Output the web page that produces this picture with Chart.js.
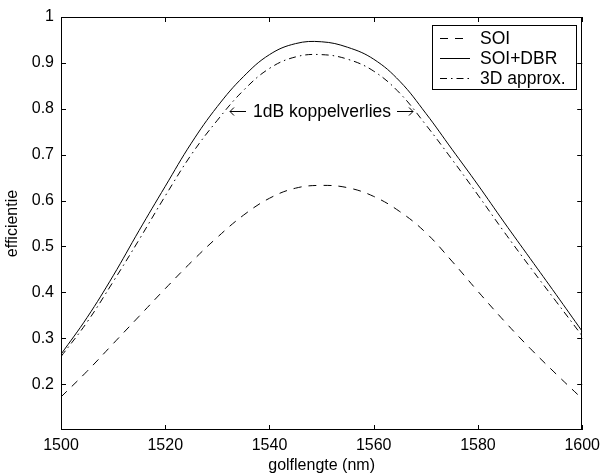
<!DOCTYPE html>
<html>
<head>
<meta charset="utf-8">
<script src="https://cdn.jsdelivr.net/npm/chart.js@4.4.1/dist/chart.umd.min.js"></script>
<style>
  html, body { margin: 0; padding: 0; background: #fff; }
  #wrap { width: 606px; height: 475px; position: relative; }
</style>
</head>
<body>
<div id="wrap"><canvas id="c" width="606" height="475"></canvas></div>
<script>
// wavelengths (nm)
const wavelengths = [1500,1505,1510,1515,1520,1525,1530,1535,1540,1545,1550,1555,1560,1565,1570,1575,1580,1585,1590,1595,1600];
// efficiency series
const soi     = [0.172,0.228,0.288,0.348,0.408,0.466,0.520,0.568,0.605,0.627,0.633,0.628,0.609,0.576,0.530,0.468,0.402,0.338,0.278,0.222,0.168];
const soiDbr  = [0.265,0.345,0.436,0.535,0.631,0.725,0.805,0.870,0.918,0.942,0.946,0.934,0.908,0.860,0.790,0.712,0.634,0.553,0.474,0.395,0.315];
const approx3d= [0.260,0.335,0.423,0.515,0.610,0.700,0.775,0.840,0.888,0.913,0.918,0.908,0.882,0.834,0.765,0.690,0.612,0.532,0.455,0.380,0.305];
const seriesNames = ['SOI','SOI+DBR','3D approx.'];
const xTicks = [1500,1520,1540,1560,1580,1600];
const yTicks = [0.2,0.3,0.4,0.5,0.6,0.7,0.8,0.9,1];
const annotationText = '1dB koppelverlies';
const xTitle = 'golflengte (nm)';
const yTitle = 'efficientie';

const FONT = "'Liberation Sans', Arial, 'DejaVu Sans', sans-serif";
const toPts = arr => arr.map((v, i) => ({x: wavelengths[i], y: v}));

const dashes = [[8,7], [], [7,4,1.5,4]];

const boxPlugin = {
  id: 'matlabBox',
  afterDraw(chart) {
    const ctx = chart.ctx;
    const a = chart.chartArea;
    const xs = chart.scales.x, ys = chart.scales.y;
    ctx.save();
    ctx.strokeStyle = '#000';
    ctx.lineWidth = 1;
    ctx.setLineDash([]);
    ctx.strokeRect(Math.round(a.left) + 0.5, Math.round(a.top) + 0.5,
                   Math.round(a.right - a.left) - 1, Math.round(a.bottom - a.top) - 1);
    const tl = 5;
    ctx.beginPath();
    xTicks.forEach(v => {
      const px = Math.round(xs.getPixelForValue(v)) + 0.5;
      ctx.moveTo(px, a.bottom); ctx.lineTo(px, a.bottom - tl);
      ctx.moveTo(px, a.top); ctx.lineTo(px, a.top + tl);
    });
    yTicks.forEach(v => {
      const py = Math.round(ys.getPixelForValue(v)) + 0.5;
      ctx.moveTo(a.left, py); ctx.lineTo(a.left + tl, py);
      ctx.moveTo(a.right, py); ctx.lineTo(a.right - tl, py);
    });
    ctx.stroke();

    // legend
    const lx = 432, ly = 25, lw = 144, lh = 64;
    ctx.fillStyle = '#fff';
    ctx.fillRect(lx, ly, lw, lh);
    ctx.strokeRect(lx + 0.5, ly + 0.5, lw, lh);
    ctx.font = '17.5px ' + FONT;
    ctx.textBaseline = 'middle';
    ctx.textAlign = 'left';
    chart.data.datasets.forEach((ds, i) => {
      const yy = ly + 13 + i * 20;
      ctx.beginPath();
      ctx.setLineDash(ds.borderDash || []);
      ctx.lineWidth = 1;
      ctx.moveTo(440, yy + 0.5); ctx.lineTo(470, yy + 0.5);
      ctx.stroke();
      ctx.setLineDash([]);
      ctx.fillStyle = '#000';
      ctx.fillText(ds.label, 480, yy + 1);
    });

    // annotation with long arrows
    ctx.fillStyle = '#000';
    ctx.textAlign = 'center';
    ctx.font = '17.5px ' + FONT;
    ctx.fillText(annotationText, 322, 112);
    const ay = 111.5;
    ctx.beginPath();
    ctx.setLineDash([]);
    ctx.moveTo(230, ay); ctx.lineTo(246, ay);
    ctx.moveTo(234, ay - 4); ctx.lineTo(230, ay); ctx.lineTo(234, ay + 4);
    ctx.moveTo(397, ay); ctx.lineTo(413, ay);
    ctx.moveTo(409, ay - 4); ctx.lineTo(413, ay); ctx.lineTo(409, ay + 4);
    ctx.stroke();
    ctx.restore();
  }
};

new Chart(document.getElementById('c'), {
  type: 'line',
  data: {
    datasets: [
      { label: seriesNames[0], data: toPts(soi), borderColor: '#000', borderWidth: 1, borderDash: dashes[0], pointRadius: 0, fill: false, tension: 0.4 },
      { label: seriesNames[1], data: toPts(soiDbr), borderColor: '#000', borderWidth: 1, borderDash: dashes[1], pointRadius: 0, fill: false, tension: 0.4 },
      { label: seriesNames[2], data: toPts(approx3d), borderColor: '#000', borderWidth: 1, borderDash: dashes[2], pointRadius: 0, fill: false, tension: 0.4 }
    ]
  },
  options: {
    responsive: false,
    animation: false,
    devicePixelRatio: 1,
    layout: { padding: { top: 17, right: 21, left: 0, bottom: 0 } },
    plugins: { legend: { display: false }, tooltip: { enabled: false } },
    scales: {
      x: {
        type: 'linear', min: 1500, max: 1600,
        afterBuildTicks: s => { s.ticks = xTicks.map(v => ({value: v})); },
        afterFit: s => { s.height = 45; },
        grid: { display: false, drawTicks: false },
        border: { display: false },
        ticks: { color: '#000', font: { family: FONT, size: 16 }, padding: 6, maxRotation: 0, autoSkip: false,
                 callback: v => String(v) },
        title: { display: true, text: xTitle, color: '#000', font: { family: FONT, size: 16 }, padding: { top: 0, bottom: 0 } }
      },
      y: {
        type: 'linear', min: 0.1, max: 1,
        afterBuildTicks: s => { s.ticks = yTicks.map(v => ({value: v})); },
        afterFit: s => { s.width = 61; },
        grid: { display: false, drawTicks: false },
        border: { display: false },
        ticks: { color: '#000', font: { family: FONT, size: 16 }, padding: 7,
                 callback: v => String(Math.round(v * 10) / 10) },
        title: { display: true, text: yTitle, color: '#000', font: { family: FONT, size: 16 }, padding: { top: 3, bottom: 0 } }
      }
    }
  },
  plugins: [boxPlugin]
});
</script>
</body>
</html>
